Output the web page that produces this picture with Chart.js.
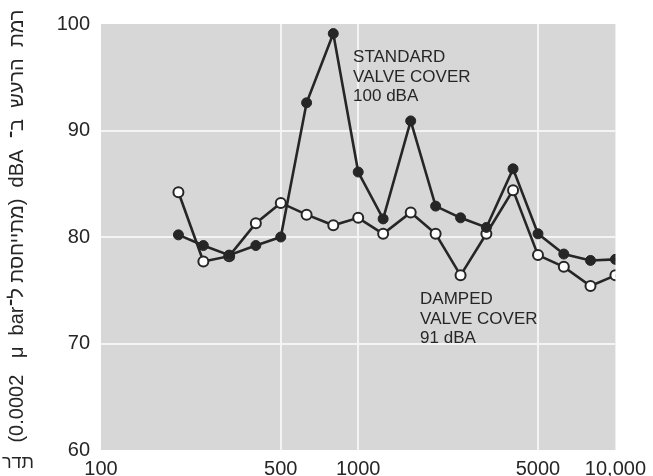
<!DOCTYPE html>
<html lang="he">
<head>
<meta charset="utf-8">
<title>Valve cover noise spectrum</title>
<script src="https://cdn.jsdelivr.net/npm/chart.js@4/dist/chart.umd.min.js"></script>
<style>
  html, body { margin: 0; padding: 0; background: #fff; }
  #chart { display: block; }
</style>
</head>
<body>
<canvas id="chart" width="653" height="476"></canvas>
<script>
'use strict';

/* ── Data (1/3-octave bands, dBA) ───────────────────────────────── */
const freqs    = [200, 250, 315, 400, 500, 630, 800, 1000, 1250, 1600, 2000, 2500, 3150, 4000, 5000, 6300, 8000, 10000];
const standard = [80.2, 79.2, 78.3, 79.2, 80.0, 92.6, 99.1, 86.1, 81.7, 90.9, 82.9, 81.8, 80.9, 86.4, 80.3, 78.4, 77.8, 77.9];
const damped   = [84.2, 77.7, 78.2, 81.3, 83.2, 82.1, 81.1, 81.8, 80.3, 82.3, 80.3, 76.4, 80.3, 84.4, 78.3, 77.2, 75.4, 76.4];

const xTicks     = [100, 500, 1000, 5000, 10000];
const xTickText  = ['100', '500', '1000', '5000', '10,000'];
const xGridAt    = [500, 1000, 5000];
const yGridAt    = [70, 80, 90];

const yTitle   = '(0.0002   \u03BC  bar' + 'מתייחסת ל\u05BE' + ')  dBA  ' + 'רמת  הרעש  ב\u05BE';
const xTitle   = 'תדר';
const stdNote  = ['STANDARD', 'VALVE COVER', '100 dBA'];
const dampNote = ['DAMPED', 'VALVE COVER', '91 dBA'];

const INK  = '#262626';
const FONT = "'Liberation Sans', Arial, sans-serif";

/* ── Plugins ────────────────────────────────────────────────────── */
const plotBackground = {
  id: 'plotBackground',
  beforeDraw(chart) {
    const { ctx, chartArea: a } = chart;
    ctx.save();
    ctx.fillStyle = '#d7d7d7';
    ctx.fillRect(a.left, a.top, a.right - a.left, a.bottom - a.top);
    ctx.restore();
  },
};

const notes = {
  id: 'notes',
  afterDatasetsDraw(chart) {
    const { ctx, scales: { x, y } } = chart;
    ctx.save();
    ctx.fillStyle = INK;
    ctx.font = '17px ' + FONT;
    ctx.textBaseline = 'alphabetic';
    ctx.textAlign = 'left';
    const block = (lines, fx, fy) => {
      const px = x.getPixelForValue(fx);
      const py = y.getPixelForValue(fy);
      lines.forEach((t, i) => ctx.fillText(t, px, py + i * 19.5));
    };
    block(stdNote, 955, 96.4);
    block(dampNote, 1740, 73.7);
    ctx.restore();
  },
};

const axisTitles = {
  id: 'axisTitles',
  afterDraw(chart) {
    const { ctx } = chart;
    ctx.save();
    ctx.fillStyle = INK;
    ctx.direction = 'ltr';
    ctx.font = '20px ' + FONT;
    ctx.textAlign = 'center';
    ctx.textBaseline = 'middle';
    ctx.translate(17, 226);
    ctx.rotate(-Math.PI / 2);
    ctx.fillText(yTitle, 0, 0);
    ctx.restore();

    ctx.save();
    ctx.fillStyle = INK;
    ctx.font = '18px ' + FONT;
    ctx.textAlign = 'center';
    ctx.textBaseline = 'middle';
    ctx.fillText(xTitle, 18, 463);
    ctx.restore();
  },
};

/* ── Chart ──────────────────────────────────────────────────────── */
new Chart(document.getElementById('chart'), {
  type: 'line',
  data: {
    datasets: [
      {
        label: 'Standard valve cover',
        data: freqs.map((f, i) => ({ x: f, y: standard[i] })),
        borderColor: INK,
        borderWidth: 2.6,
        pointRadius: 5,
        pointBackgroundColor: INK,
        pointBorderColor: INK,
        pointBorderWidth: 1,
        tension: 0,
      },
      {
        label: 'Damped valve cover',
        data: freqs.map((f, i) => ({ x: f, y: damped[i] })),
        borderColor: INK,
        borderWidth: 2.6,
        pointRadius: 5,
        pointBackgroundColor: '#ffffff',
        pointBorderColor: INK,
        pointBorderWidth: 2,
        tension: 0,
      },
    ],
  },
  options: {
    responsive: false,
    animation: false,
    devicePixelRatio: 1,
    layout: { padding: { top: 24, right: 34, left: 0, bottom: 0 } },
    plugins: { legend: { display: false }, tooltip: { enabled: false } },
    scales: {
      x: {
        type: 'logarithmic',
        min: 100,
        max: 10000,
        afterBuildTicks: s => { s.ticks = xTicks.map(v => ({ value: v })); },
        afterFit: s => { s.height = 26; },
        border: { display: false },
        grid: {
          drawTicks: false,
          lineWidth: 2,
          color: c => (xGridAt.includes(c.tick && c.tick.value) ? '#f4f4f4' : 'rgba(0,0,0,0)'),
        },
        ticks: {
          autoSkip: false,
          maxRotation: 0,
          padding: 7,
          color: INK,
          font: { family: FONT, size: 20 },
          callback: v => xTickText[xTicks.indexOf(v)] ?? '',
        },
      },
      y: {
        min: 60,
        max: 100,
        afterFit: s => { s.width = 101; },
        border: { display: false },
        grid: {
          drawTicks: false,
          lineWidth: 2,
          color: c => (yGridAt.includes(c.tick && c.tick.value) ? '#f4f4f4' : 'rgba(0,0,0,0)'),
        },
        ticks: {
          stepSize: 10,
          padding: 11,
          color: INK,
          font: { family: FONT, size: 20 },
        },
      },
    },
  },
  plugins: [plotBackground, notes, axisTitles],
});
</script>
</body>
</html>
